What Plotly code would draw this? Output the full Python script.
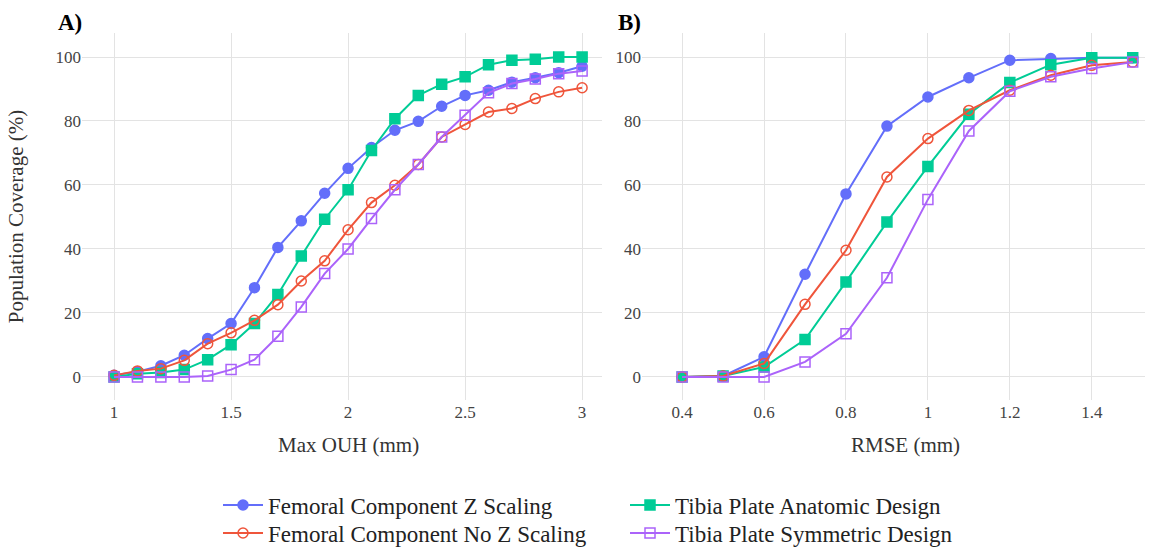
import plotly.graph_objects as go

# ---- data -----------------------------------------------------------------
ouh_mm = [1.0, 1.1, 1.2, 1.3, 1.4, 1.5, 1.6, 1.7, 1.8, 1.9, 2.0,
          2.1, 2.2, 2.3, 2.4, 2.5, 2.6, 2.7, 2.8, 2.9, 3.0]
rmse_mm = [0.4, 0.5, 0.6, 0.7, 0.8, 0.9, 1.0, 1.1, 1.2, 1.3, 1.4, 1.5]

series_names = [
    "Femoral Component Z Scaling",
    "Tibia Plate Anatomic Design",
    "Femoral Component No Z Scaling",
    "Tibia Plate Symmetric Design",
]

# Panel A: coverage (%) vs. max OUH
ouh_fem_z = [0.5, 1.6, 3.5, 6.8, 12.0, 16.7, 27.9, 40.5, 48.8, 57.4, 65.2,
             71.7, 77.1, 79.9, 84.6, 88.0, 89.6, 92.1, 93.5, 95.1, 97.1]
ouh_tib_anat = [0.0, 1.0, 1.4, 2.3, 5.4, 10.1, 16.7, 25.8, 37.8, 49.3, 58.5,
                70.8, 80.7, 88.0, 91.5, 93.8, 97.6, 99.0, 99.3, 100.0, 100.0]
ouh_fem_noz = [0.5, 1.9, 2.6, 5.2, 10.4, 13.8, 17.7, 22.6, 30.0, 36.3, 46.0,
               54.5, 59.9, 66.4, 75.0, 78.9, 82.8, 83.9, 87.0, 89.1, 90.4]
ouh_tib_sym = [0.0, 0.0, 0.0, 0.0, 0.3, 2.3, 5.4, 12.7, 21.9, 32.3, 40.0,
               49.5, 58.5, 66.4, 75.0, 81.8, 88.8, 91.7, 93.1, 94.8, 95.6]

# Panel B: coverage (%) vs. RMSE
rmse_fem_z = [0.0, 0.3, 6.3, 32.1, 57.2, 78.4, 87.5, 93.5, 99.0, 99.5, 99.8, 99.8]
rmse_tib_anat = [0.0, 0.3, 3.1, 11.7, 29.7, 48.4, 65.8, 82.1, 92.0, 97.6, 99.8, 99.8]
rmse_fem_noz = [0.0, 0.3, 4.2, 22.7, 39.6, 62.5, 74.5, 83.3, 89.6, 94.3, 97.4, 98.4]
rmse_tib_sym = [0.0, 0.0, 0.0, 4.7, 13.5, 31.0, 55.5, 76.9, 89.3, 93.8, 96.4, 98.4]

y_ticks = [0, 20, 40, 60, 80, 100]

# ---- styling ----------------------------------------------------------------
colors = ["#636efa", "#00cc96", "#EF553B", "#ab63fa"]
symbols = ["circle", "square", "circle-open", "square-open"]
legend_rows = ["legend", "legend", "legend2", "legend2"]
FONT = "Liberation Serif, Times New Roman, serif"

W, H = 1157, 557


def px_x(p):
    return p / W


def px_y(p):
    return 1 - p / H


fig = go.Figure()

panel_a = [ouh_fem_z, ouh_tib_anat, ouh_fem_noz, ouh_tib_sym]
panel_b = [rmse_fem_z, rmse_tib_anat, rmse_fem_noz, rmse_tib_sym]

for i, name in enumerate(series_names):
    common = dict(
        mode="lines+markers",
        name=name,
        legend=legend_rows[i],
        line=dict(color=colors[i], width=2),
        marker=dict(symbol=symbols[i], size=10, color=colors[i],
                    line=dict(width=1.5, color=colors[i])),
    )
    fig.add_trace(go.Scatter(x=ouh_mm, y=panel_a[i], xaxis="x", yaxis="y",
                             showlegend=True, **common))
    fig.add_trace(go.Scatter(x=rmse_mm, y=panel_b[i], xaxis="x2", yaxis="y2",
                             showlegend=False, **common))

grid = "#e3e3e3"
tickfont = dict(family=FONT, size=17, color="#444")
titlefont = dict(family=FONT, size=21, color="#333")

axis_common = dict(
    showgrid=True, gridcolor=grid, gridwidth=1, zeroline=False,
    showline=False, ticks="", tickfont=tickfont, automargin=False,
)

legend_common = dict(
    orientation="h", x=px_x(218), xanchor="left", yanchor="middle",
    entrywidth=352, entrywidthmode="pixels", tracegroupgap=0,
    font=dict(family=FONT, size=23, color="#222"),
    bgcolor="rgba(0,0,0,0)", itemwidth=40,
)


def label(text, x, y, font, **kw):
    return dict(text=text, x=px_x(x), y=px_y(y), xref="paper", yref="paper",
                xanchor="center", yanchor="middle", showarrow=False, font=font, **kw)


panel_font = dict(family=FONT, size=23, color="#000")

fig.update_layout(
    width=W, height=H,
    margin=dict(l=0, r=0, t=0, b=0),
    paper_bgcolor="white", plot_bgcolor="white",
    font=dict(family=FONT, color="#333"),
    xaxis=dict(domain=[px_x(82), px_x(602)], range=[0.863, 3.085],
               tickvals=[1, 1.5, 2, 2.5, 3], ticktext=["1", "1.5", "2", "2.5", "3"],
               anchor="y", **axis_common),
    yaxis=dict(domain=[px_y(400), px_y(33)], range=[-7.2, 107.5],
               tickvals=y_ticks,
               title=dict(text="Population Coverage (%)", font=titlefont, standoff=26),
               anchor="x", **axis_common),
    xaxis2=dict(domain=[px_x(642), px_x(1145)], range=[0.302, 1.53],
                tickvals=[0.4, 0.6, 0.8, 1.0, 1.2, 1.4],
                ticktext=["0.4", "0.6", "0.8", "1", "1.2", "1.4"],
                anchor="y2", **axis_common),
    yaxis2=dict(domain=[px_y(400), px_y(33)], range=[-7.2, 107.5],
                tickvals=y_ticks, anchor="x2", **axis_common),
    legend=dict(y=px_y(505), **legend_common),
    legend2=dict(y=px_y(533), **legend_common),
    annotations=[
        label("<b>A)</b>", 70, 23, panel_font),
        label("<b>B)</b>", 629, 23, panel_font),
        label("Max OUH (mm)", 348, 445, titlefont),
        label("RMSE (mm)", 905, 445, titlefont),
    ],
)

fig.write_html("out.html")
